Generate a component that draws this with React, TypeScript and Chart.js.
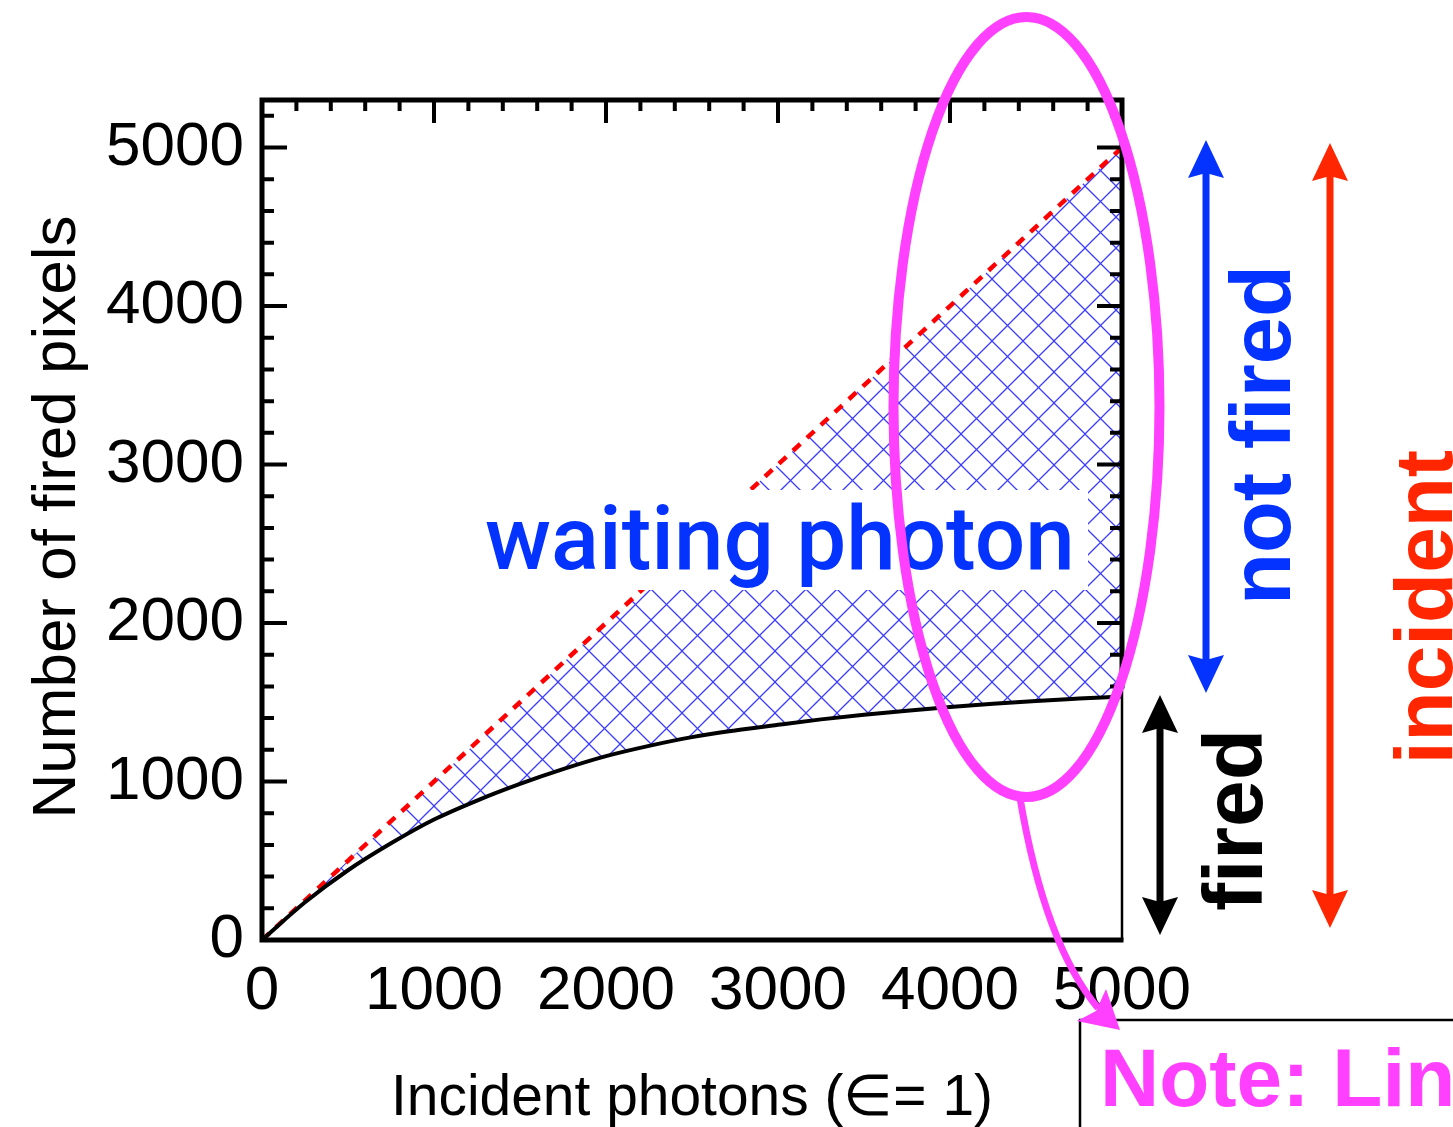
import React, { useEffect, useRef } from "react";
import { Chart, registerables } from "chart.js";

Chart.register(...registerables);

// ---- data ----
const incidentPhotons = [0, 250, 500, 750, 1000, 1250, 1500, 1750, 2000, 2250, 2500, 2750, 3000, 3250, 3500, 3750, 4000, 4250, 4500, 4750, 5000];
const firedPixels = [0, 238, 440, 610, 760, 880, 985, 1078, 1160, 1225, 1280, 1322, 1358, 1392, 1421, 1447, 1470, 1490, 1508, 1523, 1537];
const incidentLine = [0, 250, 500, 750, 1000, 1250, 1500, 1750, 2000, 2250, 2500, 2750, 3000, 3250, 3500, 3750, 4000, 4250, 4500, 4750, 5000];
const xTickValues = [0, 1000, 2000, 3000, 4000, 5000];
const yTickValues = [0, 1000, 2000, 3000, 4000, 5000];
const X_MAX = 5000;
const Y_MAX = 5300;
const MINOR_STEP = 200;
const RIGHT_AXIS_LOW = 1600;

const xTitle = "Incident photons (\u2208= 1)";
const yTitle = "Number of fired pixels";
const bandLabel = "waiting photon";
const notFiredLabel = "not fired";
const firedLabel = "fired";
const incidentLabel = "incident";
const noteLabel = "Note: Lin";

const BLUE = "#0433FF";
const RED = "#FF2600";
const MAGENTA = "#FF40FF";
const SANS = '"Liberation Sans", Arial, Helvetica, sans-serif';

function makeHatch(): CanvasPattern | string {
  const P = 31;
  const c = document.createElement("canvas");
  c.width = P;
  c.height = P;
  const g = c.getContext("2d");
  if (!g) return "rgba(30,30,255,0.3)";
  g.strokeStyle = "#3C3CFF";
  g.lineWidth = 1.25;
  for (let k = -1; k <= 1; k++) {
    g.beginPath();
    g.moveTo(k * P, 0);
    g.lineTo(k * P + P, P);
    g.stroke();
    g.beginPath();
    g.moveTo(k * P, P);
    g.lineTo(k * P + P, 0);
    g.stroke();
  }
  return g.createPattern(c, "repeat") || "rgba(30,30,255,0.3)";
}

function doubleArrow(ctx: CanvasRenderingContext2D, x: number, y1: number, y2: number, color: string) {
  const headW = 36;
  const headL = 38;
  const notch = 5;
  ctx.save();
  ctx.strokeStyle = color;
  ctx.fillStyle = color;
  ctx.lineWidth = 7;
  ctx.beginPath();
  ctx.moveTo(x, y1 + headL - notch);
  ctx.lineTo(x, y2 - headL + notch);
  ctx.stroke();
  ctx.beginPath();
  ctx.moveTo(x, y1);
  ctx.lineTo(x - headW / 2, y1 + headL);
  ctx.lineTo(x, y1 + headL - notch);
  ctx.lineTo(x + headW / 2, y1 + headL);
  ctx.closePath();
  ctx.fill();
  ctx.beginPath();
  ctx.moveTo(x, y2);
  ctx.lineTo(x - headW / 2, y2 - headL);
  ctx.lineTo(x, y2 - headL + notch);
  ctx.lineTo(x + headW / 2, y2 - headL);
  ctx.closePath();
  ctx.fill();
  ctx.restore();
}

function vText(ctx: CanvasRenderingContext2D, text: string, baseX: number, cy: number, font: string, color: string, maxW?: number) {
  ctx.save();
  ctx.translate(baseX, cy);
  ctx.rotate(-Math.PI / 2);
  ctx.font = font;
  ctx.fillStyle = color;
  ctx.textAlign = "center";
  ctx.textBaseline = "alphabetic";
  if (maxW) ctx.fillText(text, 0, 0, maxW);
  else ctx.fillText(text, 0, 0);
  ctx.restore();
}

const overlayPlugin = {
  id: "overlay",
  afterDatasetsDraw(chart: any) {
    const ctx: CanvasRenderingContext2D = chart.ctx;
    const { left, right, top, bottom } = chart.chartArea;
    const xs = chart.scales.x;
    const ys = chart.scales.y;
    ctx.save();

    // white label box over the hatch
    ctx.fillStyle = "#ffffff";
    ctx.fillRect(480, 490, 608, 100);
    ctx.fillStyle = BLUE;
    ctx.font = '500 89px Roboto, "Liberation Sans", sans-serif';
    ctx.textAlign = "left";
    ctx.textBaseline = "alphabetic";
    ctx.fillText(bandLabel, 485, 569, 593);

    // frame
    ctx.strokeStyle = "#000";
    ctx.lineCap = "butt";
    ctx.lineWidth = 5;
    ctx.beginPath();
    ctx.moveTo(left - 2.5, top);
    ctx.lineTo(right + 2.5, top);
    ctx.moveTo(left, top);
    ctx.lineTo(left, bottom + 2.5);
    ctx.moveTo(left - 2.5, bottom);
    ctx.lineTo(right + 1.5, bottom);
    const yLow = ys.getPixelForValue(RIGHT_AXIS_LOW);
    ctx.moveTo(right, top);
    ctx.lineTo(right, yLow + 2);
    ctx.stroke();
    ctx.lineWidth = 2.5;
    ctx.beginPath();
    ctx.moveTo(right, yLow);
    ctx.lineTo(right, bottom);
    ctx.stroke();

    // inward ticks
    ctx.lineWidth = 4;
    ctx.beginPath();
    for (let v = MINOR_STEP; v < X_MAX; v += MINOR_STEP) {
      const px = xs.getPixelForValue(v);
      const len = v % 1000 === 0 ? 23 : 11;
      ctx.moveTo(px, top);
      ctx.lineTo(px, top + len);
    }
    for (let v = MINOR_STEP; v < Y_MAX; v += MINOR_STEP) {
      const py = ys.getPixelForValue(v);
      const len = v % 1000 === 0 ? 25 : 12;
      ctx.moveTo(left, py);
      ctx.lineTo(left + len, py);
      if (v >= RIGHT_AXIS_LOW) {
        ctx.moveTo(right, py);
        ctx.lineTo(right - len, py);
      }
    }
    ctx.stroke();

    // axis titles
    ctx.fillStyle = "#000";
    ctx.font = `57px ${SANS}`;
    ctx.textAlign = "center";
    ctx.fillText(xTitle, 692, 1115, 602);
    vText(ctx, yTitle, 75, 517, `62px ${SANS}`, "#000", 606);

    // side arrows and labels
    doubleArrow(ctx, 1206, 140, 693, BLUE);
    doubleArrow(ctx, 1160, 695, 935, "#000");
    doubleArrow(ctx, 1330, 143, 928, RED);
    vText(ctx, notFiredLabel, 1290, 435, `bold 85px ${SANS}`, BLUE, 340);
    vText(ctx, firedLabel, 1262, 820, `bold 84px ${SANS}`, "#000", 182);
    vText(ctx, incidentLabel, 1452, 607, `bold 82px ${SANS}`, RED, 316);

    // magenta ellipse
    ctx.strokeStyle = MAGENTA;
    ctx.lineWidth = 10;
    ctx.beginPath();
    ctx.ellipse(1026.5, 407, 133, 390, 0, 0, Math.PI * 2);
    ctx.stroke();

    // note box
    ctx.fillStyle = "#fff";
    ctx.fillRect(1080, 1020, 420, 200);
    ctx.strokeStyle = "#000";
    ctx.lineWidth = 2.5;
    ctx.strokeRect(1080, 1020, 420, 200);
    ctx.fillStyle = MAGENTA;
    ctx.font = `bold 82px ${SANS}`;
    ctx.textAlign = "left";
    ctx.fillText(noteLabel, 1100, 1106);

    // magenta pointer
    ctx.strokeStyle = MAGENTA;
    ctx.lineWidth = 7;
    ctx.beginPath();
    ctx.moveTo(1020, 798);
    ctx.quadraticCurveTo(1045, 945, 1098, 1008);
    ctx.stroke();
    ctx.fillStyle = MAGENTA;
    ctx.beginPath();
    ctx.moveTo(1120, 1030);
    ctx.lineTo(1077, 1021);
    ctx.lineTo(1096, 1011);
    ctx.lineTo(1106, 989);
    ctx.closePath();
    ctx.fill();

    ctx.restore();
  },
};

export default function App() {
  const canvasRef = useRef<HTMLCanvasElement | null>(null);

  useEffect(() => {
    const canvas = canvasRef.current;
    if (!canvas) return;
    const hatch = makeHatch();
    const firedData = incidentPhotons.map((x, i) => ({ x, y: firedPixels[i] }));
    const incidentData = incidentPhotons.map((x, i) => ({ x, y: incidentLine[i] }));
    const tickFont = { family: SANS, size: 62 };

    const chart = new Chart(canvas, {
      type: "line",
      data: {
        datasets: [
          {
            label: "fired",
            data: firedData,
            borderColor: "#000",
            borderWidth: 4,
            pointRadius: 0,
            cubicInterpolationMode: "monotone",
            fill: false,
          },
          {
            label: "incident",
            data: incidentData,
            borderColor: "#FF0000",
            borderWidth: 4.5,
            borderDash: [10, 9],
            pointRadius: 0,
            fill: "-1",
            backgroundColor: hatch as any,
          },
        ],
      },
      options: {
        animation: false,
        responsive: false,
        maintainAspectRatio: false,
        events: [],
        layout: { padding: { left: 0, top: 100, right: 331, bottom: 0 } },
        plugins: {
          legend: { display: false },
          tooltip: { enabled: false },
          title: { display: false },
        },
        scales: {
          x: {
            type: "linear",
            min: 0,
            max: X_MAX,
            grid: { display: false },
            border: { display: false },
            afterFit: (s: any) => {
              s.height = 187;
            },
            afterBuildTicks: (s: any) => {
              s.ticks = xTickValues.map((v) => ({ value: v }));
            },
            ticks: {
              color: "#000",
              font: tickFont,
              padding: 7,
              maxRotation: 0,
              autoSkip: false,
              callback: (v: any) => String(v),
            },
          },
          y: {
            type: "linear",
            min: 0,
            max: Y_MAX,
            grid: { display: false },
            border: { display: false },
            afterFit: (s: any) => {
              s.width = 262;
            },
            afterBuildTicks: (s: any) => {
              s.ticks = yTickValues.map((v) => ({ value: v }));
            },
            ticks: {
              color: "#000",
              font: tickFont,
              padding: 10,
              autoSkip: false,
              callback: (v: any) => String(v),
            },
          },
        },
      },
      plugins: [overlayPlugin],
    } as any);

    return () => {
      chart.destroy();
    };
  }, []);

  return (
    <div style={{ position: "absolute", left: 0, top: 0, width: 1453, height: 1127, background: "#fff" }}>
      <canvas ref={canvasRef} width={1453} height={1127} style={{ display: "block" }} />
    </div>
  );
}
